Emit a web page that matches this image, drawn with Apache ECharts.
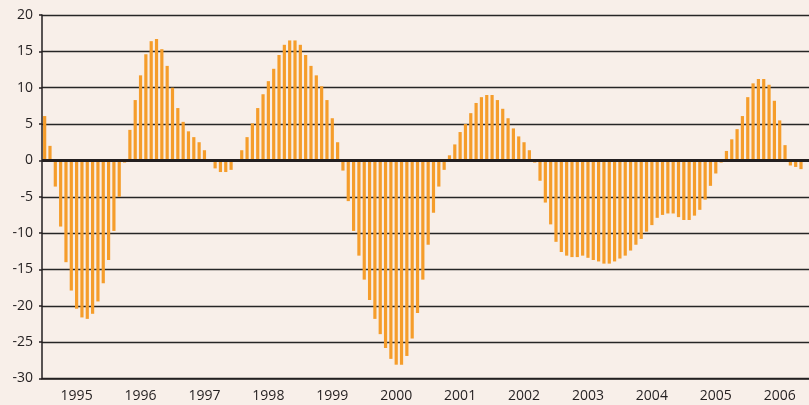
<!DOCTYPE html>
<html>
<head>
<meta charset="utf-8">
<script src="https://cdn.jsdelivr.net/npm/echarts@6/dist/echarts.min.js"></script>
<style>
  html, body { margin: 0; padding: 0; background: #f8efe9; }
  #chart { width: 809px; height: 405px; }
</style>
</head>
<body>
<div id="chart"></div>
<script>
  // monthly values, Jan..Dec of each year
  const years = ['1995', '1996', '1997', '1998', '1999', '2000', '2001', '2002', '2003', '2004', '2005', '2006']
  const months = ['01', '02', '03', '04', '05', '06', '07', '08', '09', '10', '11', '12']

  const v1995 = [6.1, 2.0, -3.6, -9.1, -14.0, -17.9, -20.4, -21.6, -21.8, -21.1, -19.4, -16.9]
  const v1996 = [-13.7, -9.7, -5.0, -0.3, 4.2, 8.3, 11.7, 14.6, 16.4, 16.7, 15.3, 13.0]
  const v1997 = [10.0, 7.2, 5.3, 4.0, 3.2, 2.5, 1.4, 0, -1.1, -1.6, -1.6, -1.3]
  const v1998 = [0, 1.4, 3.2, 5.1, 7.2, 9.1, 10.9, 12.6, 14.5, 15.9, 16.5, 16.5]
  const v1999 = [15.9, 14.5, 13.0, 11.7, 10.2, 8.3, 5.8, 2.5, -1.4, -5.6, -9.7, -13.1]
  const v2000 = [-16.4, -19.2, -21.8, -23.9, -25.8, -27.3, -28.1, -28.1, -26.9, -24.5, -21.0, -16.4]
  const v2001 = [-11.6, -7.2, -3.6, -1.3, 0.7, 2.2, 3.9, 5.0, 6.5, 7.9, 8.7, 9.0]
  const v2002 = [9.0, 8.3, 7.1, 5.8, 4.4, 3.3, 2.5, 1.4, -0.3, -2.8, -5.8, -8.8]
  const v2003 = [-11.2, -12.6, -13.1, -13.3, -13.3, -13.1, -13.4, -13.7, -13.9, -14.2, -14.2, -13.9]
  const v2004 = [-13.5, -13.1, -12.4, -11.6, -10.8, -9.8, -8.9, -7.9, -7.5, -7.3, -7.3, -7.8]
  const v2005 = [-8.2, -8.2, -7.6, -6.8, -5.4, -3.5, -1.8, -0.3, 1.3, 2.9, 4.3, 6.1]
  const v2006 = [8.7, 10.6, 11.2, 11.2, 10.4, 8.2, 5.5, 2.1, -0.7, -0.9, -1.2, null]

  const yTicks = { min: -30, max: 20, interval: 5 }

  const categories = []
  years.forEach(y => months.forEach(m => categories.push(y + '-' + m)))
  const values = [].concat(v1995, v1996, v1997, v1998, v1999, v2000,
    v2001, v2002, v2003, v2004, v2005, v2006)

  const textColor = '#231f20'
  const chart = echarts.init(document.getElementById('chart'))
  chart.setOption({
    backgroundColor: '#f8efe9',
    animation: false,
    grid: {
      left: 42,
      right: -8,
      top: 15,
      bottom: 26.5
    },
    xAxis: {
      type: 'category',
      data: categories,
      boundaryGap: true,
      axisLine: {
        onZero: false,
        lineStyle: { color: textColor, width: 1.5 }
      },
      axisTick: {
        length: 3,
        interval: function (index) { return index % 12 === 0 },
        lineStyle: { color: textColor, width: 1.5 }
      },
      axisLabel: {
        interval: function (index) { return index % 12 === 6 },
        formatter: function (v) { return v.slice(0, 4) },
        color: textColor,
        fontFamily: 'Open Sans',
        fontSize: 14,
        margin: 11
      },
      splitLine: { show: false }
    },
    yAxis: {
      type: 'value',
      min: yTicks.min,
      max: yTicks.max,
      interval: yTicks.interval,
      axisLine: {
        show: true,
        lineStyle: { color: textColor, width: 1.5 }
      },
      axisTick: {
        show: true,
        length: 3,
        lineStyle: { color: textColor, width: 1.5 }
      },
      axisLabel: {
        color: textColor,
        fontFamily: 'Open Sans',
        fontSize: 14,
        margin: 9
      },
      splitLine: {
        lineStyle: { color: '#262626', width: 1.3 }
      }
    },
    series: [
      {
        type: 'bar',
        data: values,
        barWidth: 3.2,
        itemStyle: { color: '#f59d2b' },
        markLine: {
          silent: true,
          symbol: 'none',
          label: { show: false },
          lineStyle: { color: textColor, width: 3, type: 'solid' },
          data: [ { yAxis: 0 } ]
        }
      }
    ]
  })
</script>
</body>
</html>
